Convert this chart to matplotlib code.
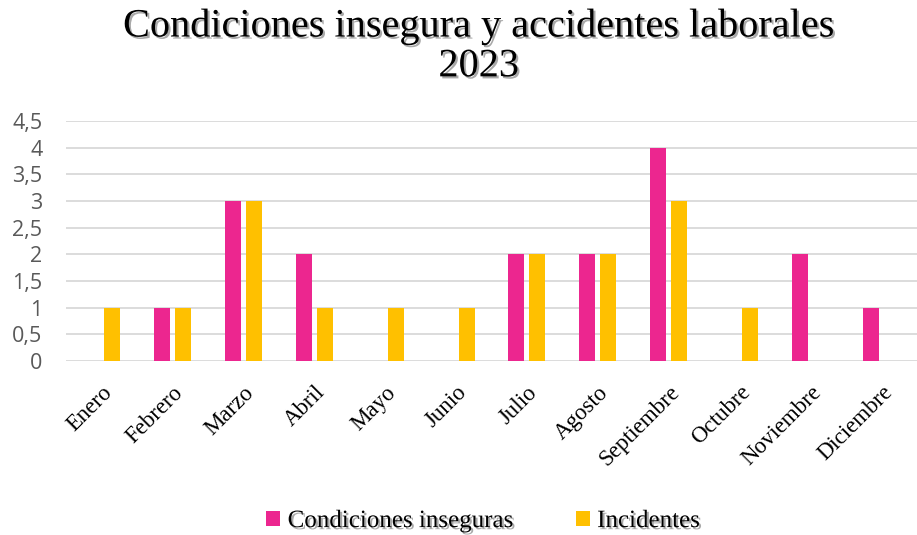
import matplotlib.pyplot as plt
import matplotlib.patheffects as pe
import numpy as np

meses = ["Enero", "Febrero", "Marzo", "Abril", "Mayo", "Junio", "Julio",
         "Agosto", "Septiembre", "Octubre", "Noviembre", "Diciembre"]
condiciones = [0, 1, 3, 2, 0, 0, 2, 2, 4, 0, 2, 1]
incidentes = [1, 1, 3, 1, 1, 1, 2, 2, 3, 1, 0, 0]
yticks = [0, 0.5, 1, 1.5, 2, 2.5, 3, 3.5, 4, 4.5]

rosa = "#EC268F"
amarillo = "#FFC000"
sombra = [pe.SimplePatchShadow(offset=(1.5, -1.5), shadow_rgbFace="#555555", alpha=0.5), pe.Normal()]

fig = plt.figure(figsize=(9.17, 5.35), dpi=100)
ax = fig.add_axes([0.072, 0.325, 0.928, 0.449])

x = np.arange(len(meses))
w = 0.226
ax.bar(x - 0.148, condiciones, w, color=rosa, label="Condiciones inseguras", zorder=3)
ax.bar(x + 0.148, incidentes, w, color=amarillo, label="Incidentes", zorder=3)

ax.set_xlim(-0.5, len(meses) - 0.5)
ax.set_ylim(0, 4.5)
ax.set_yticks(yticks)
ax.set_yticklabels([f"{v:g}".replace(".", ",") for v in yticks],
                   fontfamily="Open Sans", fontsize=15.5, color="#595959")
ax.set_xticks(x)
ax.set_xticklabels(meses, rotation=45, ha="right", rotation_mode="anchor",
                   fontfamily="Liberation Serif", fontsize=16.5)
ax.tick_params(length=0)
ax.tick_params(axis="x", pad=15)
ax.tick_params(axis="y", pad=17)
ax.grid(axis="y", color="#D9D9D9", linewidth=1.3, zorder=0)
for s in ax.spines.values():
    s.set_visible(False)

fig.text(0.522, 0.985, "Condiciones insegura y accidentes laborales\n2023", ha="center", va="top",
         fontfamily="Liberation Serif", fontsize=29, linespacing=1.1, path_effects=sombra)

leg = fig.legend(loc="center", bbox_to_anchor=(0.527, 0.026), ncol=2, frameon=False,
                 prop={"family": "Liberation Serif", "size": 18}, handlelength=0.55,
                 handleheight=0.55, handletextpad=0.3, columnspacing=2.5)
for t in leg.get_texts():
    t.set_path_effects(sombra)

fig.savefig("out.png", dpi=100)
